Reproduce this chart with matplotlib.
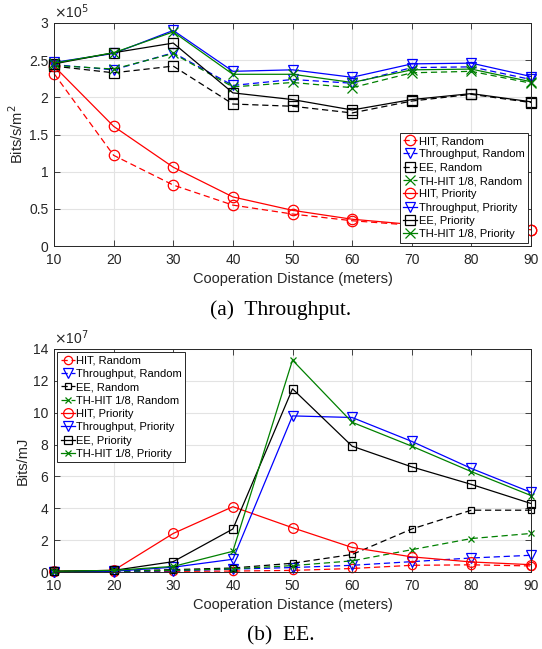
import matplotlib
matplotlib.use("Agg")
import matplotlib.pyplot as plt
from matplotlib.ticker import FuncFormatter

# ---------------- data ----------------
distance = [10, 20, 30, 40, 50, 60, 70, 80, 90]

# Throughput (x 1e5 bits/s/m^2)
thr_scale = 1e5
thr_hit_random = [2.32, 1.22, 0.82, 0.55, 0.43, 0.34, 0.28, 0.24, 0.21]
thr_thr_random = [2.44, 2.37, 2.60, 2.16, 2.24, 2.19, 2.40, 2.41, 2.24]
thr_ee_random = [2.42, 2.33, 2.42, 1.91, 1.88, 1.79, 1.95, 2.04, 1.93]
thr_th_random = [2.43, 2.38, 2.59, 2.14, 2.20, 2.13, 2.33, 2.35, 2.19]
thr_hit_priority = [2.42, 1.61, 1.06, 0.66, 0.48, 0.36, 0.29, 0.25, 0.22]
thr_thr_priority = [2.47, 2.59, 2.90, 2.35, 2.37, 2.27, 2.45, 2.46, 2.28]
thr_ee_priority = [2.45, 2.60, 2.73, 2.06, 1.97, 1.83, 1.97, 2.05, 1.94]
thr_th_priority = [2.46, 2.60, 2.88, 2.31, 2.31, 2.20, 2.37, 2.38, 2.21]

# EE (x 1e7 bits/mJ)
ee_scale = 1e7
ee_hit_random = [0.02, 0.03, 0.04, 0.06, 0.10, 0.22, 0.42, 0.45, 0.38]
ee_thr_random = [0.0, 0.02, 0.08, 0.18, 0.28, 0.42, 0.65, 0.88, 1.05]
ee_ee_random = [0.03, 0.05, 0.15, 0.25, 0.55, 1.10, 2.70, 3.88, 3.88]
ee_th_random = [0.03, 0.05, 0.10, 0.20, 0.40, 0.70, 1.40, 2.10, 2.42]
ee_hit_priority = [0.05, 0.10, 2.42, 4.10, 2.78, 1.54, 0.95, 0.63, 0.46]
ee_thr_priority = [0.0, 0.05, 0.30, 0.80, 9.80, 9.70, 8.20, 6.50, 5.00]
ee_ee_priority = [0.05, 0.10, 0.65, 2.70, 11.50, 7.90, 6.60, 5.50, 4.30]
ee_th_priority = [0.05, 0.10, 0.35, 1.30, 13.30, 9.40, 7.90, 6.30, 4.80]

labels = ["HIT, Random", "Throughput, Random", "EE, Random", "TH-HIT 1/8, Random",
          "HIT, Priority", "Throughput, Priority", "EE, Priority", "TH-HIT 1/8, Priority"]

xticks = [10, 20, 30, 40, 50, 60, 70, 80, 90]
thr_yticks = [0, 0.5, 1, 1.5, 2, 2.5, 3]
ee_yticks = [0, 2, 4, 6, 8, 10, 12, 14]

# ---------------- style ----------------
plt.rcParams['font.family'] = ['Liberation Sans', 'DejaVu Sans']
AX_COL = '#262626'
GREEN = '#008000'
colors = ['r', 'b', 'k', GREEN, 'r', 'b', 'k', GREEN]
markers = ['o', 'v', 's', 'x', 'o', 'v', 's', 'x']
styles = ['--', '--', '--', '--', '-', '-', '-', '-']
dash = (0, (5, 3))

fig = plt.figure(figsize=(5.42, 6.49), dpi=100)
ax1 = fig.add_axes([54/542, 1-246/649, 477/542, 223/649])
ax2 = fig.add_axes([54/542, 1-572/649, 477/542, 223/649])


def style_axes(ax, yticks, ylabel, scale, exp):
    ax.set_xlim(10, 90)
    ax.set_xticks(xticks)
    ax.set_ylim(yticks[0] * scale, yticks[-1] * scale)
    ax.set_yticks([t * scale for t in yticks])
    ax.yaxis.set_major_formatter(FuncFormatter(lambda v, p: f"{v/scale:g}"))
    ax.grid(True, color='#e3e3e3', linewidth=0.8)
    ax.set_axisbelow(True)
    for s in ax.spines.values():
        s.set_color(AX_COL)
        s.set_linewidth(0.7)
    ax.tick_params(direction='in', length=4, width=0.6, colors=AX_COL,
                   labelsize=10, top=True, right=True)
    ax.tick_params(axis='x', pad=5)
    ax.tick_params(axis='y', pad=4)
    ax.set_xlabel("Cooperation Distance (meters)", fontsize=10.5, color=AX_COL, labelpad=4)
    ax.set_ylabel(ylabel, fontsize=10.5, color=AX_COL, labelpad=2)
    ax.text(0.0, 1.01, r"$\times$10$^{%d}$" % exp, transform=ax.transAxes,
            fontsize=10, color=AX_COL, ha='left', va='bottom')


def make_legend(ax, loc):
    leg = ax.legend(loc=loc, fontsize=8, handlelength=1.3, handletextpad=0.1,
                    borderpad=0.3, labelspacing=0.3, borderaxespad=0.3, fancybox=False,
                    framealpha=1, edgecolor=AX_COL)
    leg.get_frame().set_linewidth(0.7)


# ---- top: throughput ----
thr_series = [thr_hit_random, thr_thr_random, thr_ee_random, thr_th_random,
              thr_hit_priority, thr_thr_priority, thr_ee_priority, thr_th_priority]
for vals, c, m, ls, lab in zip(thr_series, colors, markers, styles, labels):
    ax1.plot(distance, [v * thr_scale for v in vals], color=c, marker=m,
             linestyle=dash if ls == '--' else '-', linewidth=0.9, markersize=7.5,
             markerfacecolor='none', markeredgewidth=0.9, label=lab, clip_on=False)
style_axes(ax1, thr_yticks, r"Bits/s/m$^2$", thr_scale, 5)
make_legend(ax1, 'lower right')

# ---- bottom: EE ----
ee_series = [ee_hit_random, ee_thr_random, ee_ee_random, ee_th_random,
             ee_hit_priority, ee_thr_priority, ee_ee_priority, ee_th_priority]
ee_msize = [6, 6.5, 4.5, 4, 7, 7.5, 6, 5]
for vals, c, m, ls, lab, ms in zip(ee_series, colors, markers, styles, labels, ee_msize):
    ax2.plot(distance, [v * ee_scale for v in vals], color=c, marker=m,
             linestyle=dash if ls == '--' else '-', linewidth=0.9, markersize=ms,
             markerfacecolor='none', markeredgewidth=0.9, label=lab, clip_on=False)
style_axes(ax2, ee_yticks, "Bits/mJ", ee_scale, 7)
make_legend(ax2, 'upper left')

# captions
fig.text(281/542, 1-310/649, "(a)  Throughput.", fontsize=15.5, family='Liberation Serif',
         ha='center', va='center', color='black')
fig.text(281/542, 1-636/649, "(b)  EE.", fontsize=15.5, family='Liberation Serif',
         ha='center', va='center', color='black')

fig.savefig("out.png", dpi=100)
